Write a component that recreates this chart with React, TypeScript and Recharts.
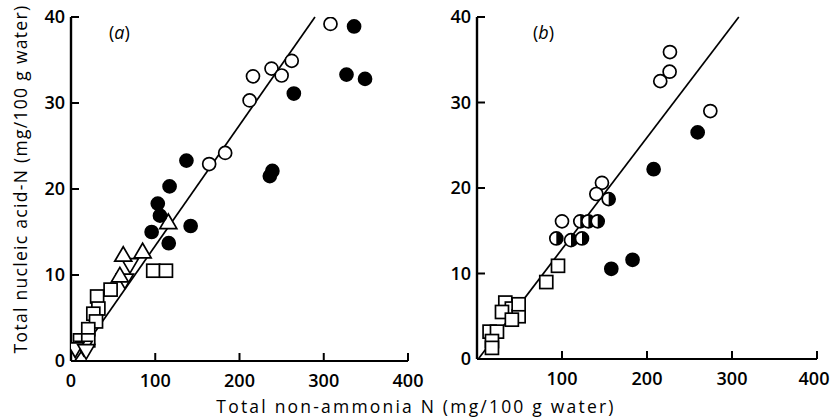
import React from 'react';
import { ScatterChart, Scatter, XAxis, YAxis, ReferenceLine } from 'recharts';

// ---------- data ----------
const yTicks = [0, 10, 20, 30, 40];
const xTicksA = [0, 100, 200, 300, 400];
const xTicksB = [100, 200, 300, 400];

// Panel (a)
const openA: [number, number][] = [
  [308, 39.2], [262, 34.9], [238, 34.0], [250, 33.2], [216, 33.1], [212, 30.3], [183, 24.2], [164, 22.9],
];
const filledA: [number, number][] = [
  [336, 38.9], [327, 33.3], [349, 32.8], [264.5, 31.1], [137, 23.3], [239, 22.1], [236, 21.5],
  [117, 20.3], [103, 18.3], [105.6, 16.9], [95.7, 15.0], [116, 13.7], [142, 15.7],
];
const triUpA: [number, number][] = [
  [115.5, 16.1], [62, 12.3], [85, 12.7], [58, 9.9],
];
const triDownA: [number, number][] = [
  [70, 11.2], [64, 9.4], [15, 1.6], [5, 1.4], [18, 1.2],
];
const squaresA: [number, number][] = [
  [97.6, 10.5], [112.7, 10.5], [47, 8.3], [31, 7.5], [32.5, 6.1], [26.5, 5.5], [29.7, 4.6],
  [20.5, 3.7], [10.7, 2.4], [20.5, 2.4],
];
const fitA: [number, number][] = [[4.5, 0], [289.6, 40]];

// Panel (b)
const openB: [number, number][] = [
  [227, 35.9], [226.6, 33.6], [215.6, 32.5], [274.5, 29.0], [147, 20.6], [140.4, 19.3], [100, 16.1],
];
const filledB: [number, number][] = [
  [259.6, 26.5], [207.8, 22.2], [158, 10.55], [183, 11.6],
];
const halfB: [number, number][] = [
  [154.9, 18.7], [93.3, 14.1], [110.6, 13.9], [123.5, 14.1], [121.5, 16.1], [131, 16.1], [142, 16.1],
];
const squaresB: [number, number][] = [
  [95.3, 10.9], [81.5, 9.0], [33.3, 6.6], [41, 5.9], [49, 5.0], [29.4, 5.5], [41, 4.6], [49, 6.4],
  [14.8, 3.2], [23.5, 3.2], [17.6, 2.1], [17.6, 1.3],
];
const fitB: [number, number][] = [[1.5, 0], [308, 40]];

const toPts = (a: [number, number][]) => a.map(([x, y]) => ({ x, y }));

// ---------- styles ----------
const FONT = "'Open Sans', 'DejaVu Sans', sans-serif";
const TICK_FS = 18;
const R = 6.5;
const SW = 1.7;

const OpenCircle = (p: any) => (
  <circle cx={p.cx} cy={p.cy} r={R} fill="#fff" stroke="#000" strokeWidth={SW} />
);
const FilledCircle = (p: any) => (
  <circle cx={p.cx} cy={p.cy} r={R} fill="#000" stroke="#000" strokeWidth={SW} />
);
const HalfCircle = (p: any) => (
  <g>
    <circle cx={p.cx} cy={p.cy} r={R} fill="#fff" stroke="#000" strokeWidth={SW} />
    <path d={`M${p.cx},${p.cy - R} A${R},${R} 0 0 1 ${p.cx},${p.cy + R} Z`} fill="#000" />
  </g>
);
const Square = (p: any) => (
  <rect x={p.cx - 6.5} y={p.cy - 6.5} width={13} height={13} fill="#fff" stroke="#000" strokeWidth={SW} />
);
const TriUp = (p: any) => (
  <polygon
    points={`${p.cx},${p.cy - 8.5} ${p.cx - 8.5},${p.cy + 6} ${p.cx + 8.5},${p.cy + 6}`}
    fill="#fff" stroke="#000" strokeWidth={SW} strokeLinejoin="miter"
  />
);
const TriDown = (p: any) => (
  <polygon
    points={`${p.cx},${p.cy + 8.5} ${p.cx - 8.5},${p.cy - 6} ${p.cx + 8.5},${p.cy - 6}`}
    fill="#fff" stroke="#000" strokeWidth={SW} strokeLinejoin="miter"
  />
);

const YTick = (p: any) => {
  const { x, y, payload } = p;
  return (
    <g>
      {payload.value !== 0 && <line x1={x} x2={x + 8} y1={y} y2={y} stroke="#000" strokeWidth={2} />}
      <text x={x - 6} y={y} dy="0.36em" textAnchor="end" fontFamily={FONT} fontSize={TICK_FS} fontWeight={600} fill="#000">
        {payload.value}
      </text>
    </g>
  );
};

const XTick = (p: any) => {
  const { x, y, payload, shiftLast } = p;
  const last = payload.value === 400 && shiftLast;
  return (
    <g>
      {payload.value !== 0 && <line x1={x} x2={x} y1={y} y2={y - 8} stroke="#000" strokeWidth={2} />}
      <text
        x={last ? x - 3 : x}
        y={y + 26}
        textAnchor="middle"
        fontFamily={FONT}
        fontSize={TICK_FS}
        fontWeight={600}
        fill="#000"
      >
        {payload.value}
      </text>
    </g>
  );
};

type Panel = {
  left: number;
  width: number;
  margin: { top: number; right: number; bottom: number; left: number };
  xTicks: number[];
  shiftLast: boolean;
  open: [number, number][];
  filled: [number, number][];
  half?: [number, number][];
  squares: [number, number][];
  triUp?: [number, number][];
  triDown?: [number, number][];
  fit: [number, number][];
};

const PanelChart = ({ cfg }: { cfg: Panel }) => (
  <div style={{ position: 'absolute', left: cfg.left, top: 0 }}>
    <ScatterChart width={cfg.width} height={419} margin={cfg.margin}>
      <XAxis
        type="number"
        dataKey="x"
        domain={[0, 400]}
        ticks={cfg.xTicks}
        interval={0}
        allowDataOverflow
        height={40}
        tickSize={0}
        tickMargin={0}
        tickLine={false}
        axisLine={{ stroke: '#000', strokeWidth: 2 }}
        tick={<XTick shiftLast={cfg.shiftLast} />}
      />
      <YAxis
        type="number"
        dataKey="y"
        domain={[0, 40]}
        ticks={yTicks}
        interval={0}
        allowDataOverflow
        width={40}
        tickSize={0}
        tickMargin={0}
        tickLine={false}
        axisLine={{ stroke: '#000', strokeWidth: 2.4 }}
        tick={<YTick />}
      />
      <ReferenceLine
        segment={[{ x: cfg.fit[0][0], y: cfg.fit[0][1] }, { x: cfg.fit[1][0], y: cfg.fit[1][1] }]}
        stroke="#000"
        strokeWidth={1.7}
        ifOverflow="visible"
      />
      <Scatter data={toPts(cfg.squares)} shape={<Square />} isAnimationActive={false} />
      {cfg.triDown && <Scatter data={toPts(cfg.triDown)} shape={<TriDown />} isAnimationActive={false} />}
      {cfg.triUp && <Scatter data={toPts(cfg.triUp)} shape={<TriUp />} isAnimationActive={false} />}
      <Scatter data={toPts(cfg.open)} shape={<OpenCircle />} isAnimationActive={false} />
      {cfg.half && <Scatter data={toPts(cfg.half)} shape={<HalfCircle />} isAnimationActive={false} />}
      <Scatter data={toPts(cfg.filled)} shape={<FilledCircle />} isAnimationActive={false} />
    </ScatterChart>
  </div>
);

const panelA: Panel = {
  left: 0,
  width: 440,
  margin: { top: 17, right: 32, bottom: 18, left: 31 },
  xTicks: xTicksA,
  shiftLast: false,
  open: openA,
  filled: filledA,
  squares: squaresA,
  triUp: triUpA,
  triDown: triDownA,
  fit: fitA,
};

const panelB: Panel = {
  left: 420,
  width: 411,
  margin: { top: 17, right: 14, bottom: 20, left: 17 },
  xTicks: xTicksB,
  shiftLast: true,
  open: openB,
  filled: filledB,
  half: halfB,
  squares: squaresB,
  fit: fitB,
};

const panelTag: React.CSSProperties = {
  position: 'absolute', top: 23, fontFamily: FONT, fontSize: 18, lineHeight: 1,
};

export default function App() {
  return (
    <div style={{ position: 'absolute', left: 0, top: 0, width: 831, height: 419, background: '#fff', overflow: 'hidden' }}>
      <PanelChart cfg={panelA} />
      <PanelChart cfg={panelB} />
      <div style={{ ...panelTag, left: 109 }}>
        (<i>a</i>)
      </div>
      <div style={{ ...panelTag, left: 533 }}>
        (<i>b</i>)
      </div>
      <div
        style={{
          position: 'absolute', left: 416, top: 407, transform: 'translate(-50%, -50%)',
          fontFamily: FONT, fontSize: 17.5, letterSpacing: 2.2, whiteSpace: 'nowrap', lineHeight: 1,
        }}
      >
        Total non-ammonia N (mg/100 g water)
      </div>
      <div
        style={{
          position: 'absolute', left: 21, top: 179, transform: 'translate(-50%, -50%) rotate(-90deg)',
          fontFamily: FONT, fontSize: 17.5, letterSpacing: 1.3, whiteSpace: 'nowrap', lineHeight: 1,
        }}
      >
        Total nucleic acid-N (mg/100 g water)
      </div>
    </div>
  );
}
